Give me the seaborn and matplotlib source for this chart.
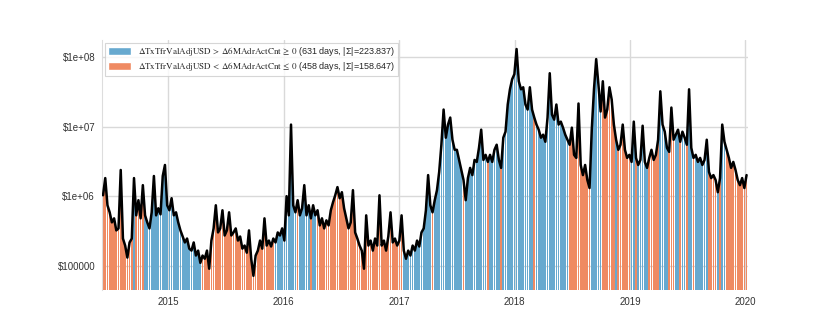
"""Weekly on-chain transfer value with sign-agreement bars."""

import pandas as pd
import numpy as np
import matplotlib
matplotlib.use("Agg")
import matplotlib.pyplot as plt
import matplotlib.dates as mdates
from matplotlib.patches import Patch
from matplotlib.ticker import FuncFormatter, LogLocator, NullLocator
import seaborn as sns

# weekly samples, first one on 2014-06-08
start_date = "2014-06-08"

# adjusted transfer value, USD millions (one value per week)
tx_value_musd = [
    1.03, 1.82, 0.74, 0.586, 0.42, 0.48, 0.322, 0.344, 2.38, 0.246,
    0.195, 0.131, 0.216, 0.246, 1.82, 0.53, 0.875, 0.48, 1.44, 0.53,
    0.42, 0.344, 0.586, 1.95, 0.53, 0.67, 0.548, 1.95, 2.81, 0.74,
    0.627, 0.935, 0.53, 0.586, 0.42, 0.322, 0.263, 0.216, 0.246, 0.176,
    0.165, 0.216, 0.14, 0.165, 0.11, 0.14, 0.126, 0.165, 0.0905, 0.23,
    0.344, 0.74, 0.301, 0.344, 0.627, 0.272, 0.322, 0.586, 0.272, 0.301,
    0.344, 0.23, 0.263, 0.176, 0.195, 0.154, 0.322, 0.126, 0.0716, 0.14,
    0.165, 0.23, 0.176, 0.48, 0.195, 0.23, 0.189, 0.246, 0.216, 0.301,
    0.272, 0.344, 0.23, 1.0, 0.53, 10.7, 0.74, 0.586, 0.875, 0.53,
    0.67, 1.44, 0.53, 0.74, 0.48, 0.74, 0.53, 0.627, 0.38, 0.48,
    0.344, 0.449, 0.38, 0.627, 0.819, 1.03, 1.35, 0.935, 1.14, 0.67,
    0.48, 0.344, 0.42, 1.22, 0.301, 0.246, 0.195, 0.165, 0.0905, 0.53,
    0.195, 0.23, 0.165, 0.246, 0.195, 1.03, 0.195, 0.23, 0.165, 0.263,
    0.586, 0.216, 0.246, 0.195, 0.23, 0.53, 0.165, 0.126, 0.165, 0.14,
    0.195, 0.165, 0.23, 0.189, 0.301, 0.344, 0.627, 2.01, 0.74, 0.586,
    0.875, 1.22, 2.23, 5.49, 17.6, 6.93, 10.7, 13.5, 6.48, 4.64,
    4.64, 3.32, 2.38, 1.71, 0.875, 1.82, 2.55, 2.01, 3.32, 3.11,
    4.96, 9.04, 3.32, 3.93, 3.11, 3.93, 3.11, 4.64, 5.49, 3.32,
    2.55, 6.93, 8.46, 20.8, 34.4, 48.0, 56.7, 130.6, 44.9, 34.4,
    36.8, 20.8, 17.6, 36.8, 17.6, 13.5, 10.7, 9.04, 6.93, 7.66,
    6.06, 13.5, 58.6, 14.9, 12.6, 20.8, 10.7, 11.8, 9.67, 7.66,
    6.48, 5.49, 9.67, 3.93, 3.55, 21.5, 2.81, 2.01, 2.81, 1.71,
    1.31, 9.04, 34.4, 93.5, 40.6, 16.5, 44.9, 13.5, 17.6, 36.8,
    24.6, 10.7, 6.48, 4.64, 5.49, 10.7, 4.64, 3.55, 3.93, 3.11,
    11.8, 3.55, 2.81, 3.32, 10.3, 3.11, 2.55, 3.55, 4.64, 3.32,
    3.93, 6.48, 32.2, 10.7, 8.46, 4.96, 4.34, 18.8, 6.48, 7.66,
    9.04, 6.06, 8.46, 6.93, 5.49, 34.4, 4.96, 3.55, 3.93, 3.11,
    3.55, 2.81, 3.32, 6.48, 2.23, 1.82, 2.01, 1.71, 1.14, 1.82,
    10.7, 6.06, 4.64, 3.55, 2.55, 3.11, 2.38, 1.71, 1.44, 1.82, 1.31, 2.01,
]

# b = both deltas positive, r = both negative (one char per week)
regime = (
    "rrrrrrrrrr" "rrrrbrrrrb" "bbbbbbbbbb" "bbbbbbbbbb" "bbbbbrrrrr"
    "rrrrrrrrrr" "rrrrrrrrrr" "rrrrrrrrbb" "bbbbbbbbrb" "bbbbrbbrrr"
    "rrrrrrrrrr" "rrrrrrrrrr" "rrrrrrrrrr" "rrrrrrbbbb" "bbbbbbbbbr"
    "bbbbbbbbbb" "bbbrbbbbbb" "bbbbrbbbbb" "rbbbbbbbbb" "bbbbbrbbbb"
    "bbbbbbbbbb" "brrrrrrrrr" "rbbbbbrrrr" "rrbrrrrrrb" "brbbbbbrrr"
    "rrbbbbrrrb" "brbbrbbrbb" "bbbbrrrrbr" "bbrrrrrrrr" "rr"
)

legend_labels = [
    r"$\Delta\mathrm{TxTfrValAdjUSD}\,>\,\Delta\mathrm{6MAdrActCnt}\,\geq\,0$ (631 days, |Σ|=223.837)",
    r"$\Delta\mathrm{TxTfrValAdjUSD}\,<\,\Delta\mathrm{6MAdrActCnt}\,\leq\,0$ (458 days, |Σ|=158.647)",
]

BLUE = "#67a9cf"
RED = "#ef8a62"

sns.set_theme(style="whitegrid")
plt.rcParams["font.family"] = ["Liberation Sans", "DejaVu Sans"]
plt.rcParams["mathtext.fontset"] = "stix"

df = pd.DataFrame({
    "date": pd.date_range(start_date, periods=len(tx_value_musd), freq="7D"),
    "value": np.array(tx_value_musd) * 1e6,
    "regime": list(regime),
})

fig, ax = plt.subplots(figsize=(8.3, 3.32), dpi=100)
fig.subplots_adjust(left=0.123, right=0.901, bottom=0.127, top=0.88)

colors = df["regime"].map({"b": BLUE, "r": RED})
ax.bar(df["date"], df["value"], width=5.4, color=colors, linewidth=0, zorder=2)
sns.lineplot(data=df, x="date", y="value", color="black", linewidth=1.8, ax=ax, zorder=3)

ax.set_yscale("log")
ax.set_ylim(4.5e4, 1.77e8)
ax.set_xlim(df["date"].iloc[0] - pd.Timedelta(days=3), df["date"].iloc[-1] + pd.Timedelta(days=4))
ax.yaxis.set_major_locator(LogLocator(base=10, numticks=10))
ax.yaxis.set_minor_locator(NullLocator())
ax.yaxis.set_major_formatter(FuncFormatter(lambda v, _: "\\$" + f"{v:g}"))
ax.xaxis.set_major_locator(mdates.YearLocator())
ax.xaxis.set_major_formatter(mdates.DateFormatter("%Y"))

ax.set_xlabel("")
ax.set_ylabel("")
ax.tick_params(axis="both", labelsize=7, colors="#333333", length=0, pad=5)
ax.grid(True, color="#d9d9d9", linewidth=1.0, zorder=0)
for name, s in ax.spines.items():
    s.set_visible(name == "left")
    s.set_color("#dddddd")
    s.set_linewidth(0.8)
ax.set_axisbelow(True)

handles = [Patch(facecolor=BLUE, label=legend_labels[0]),
           Patch(facecolor=RED, label=legend_labels[1])]
leg = ax.legend(handles=handles, loc="upper left", fontsize=6.5, frameon=True,
                fancybox=False, borderaxespad=0.3, handlelength=2.6,
                handleheight=0.9, labelspacing=0.2, borderpad=0.3)
leg.get_frame().set_edgecolor("#cccccc")
leg.get_frame().set_linewidth(0.8)

fig.savefig("out.png", dpi=100)
